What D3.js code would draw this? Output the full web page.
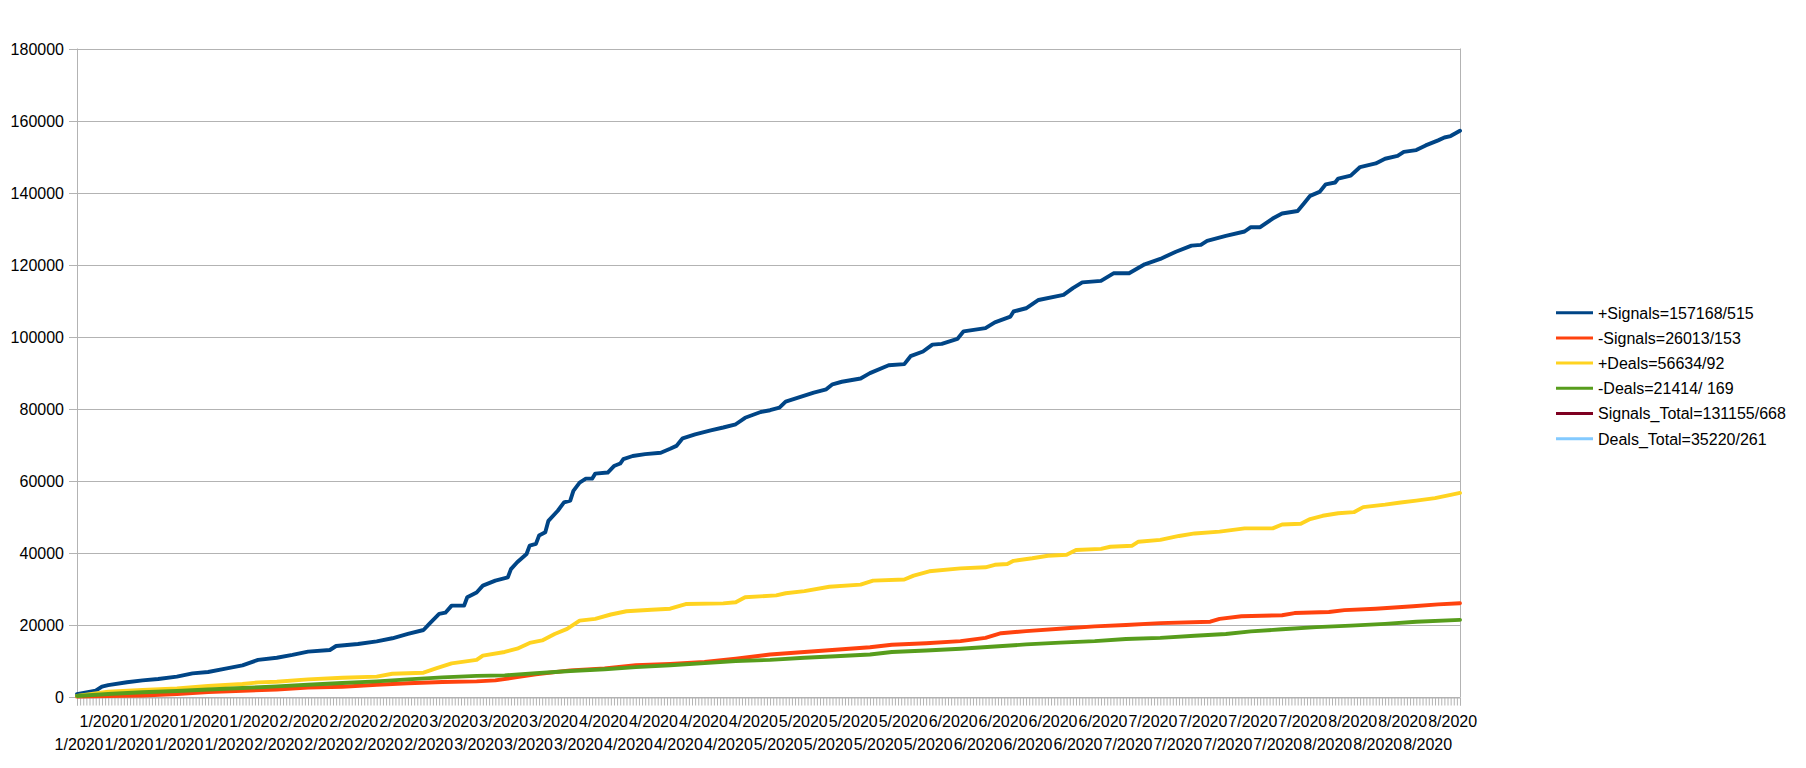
<!DOCTYPE html>
<html><head><meta charset="utf-8">
<script src="https://cdn.jsdelivr.net/npm/d3@7"></script>
<style>
body{margin:0;background:#fff}
svg{display:block}
text{font-family:"Liberation Sans",Arial,sans-serif;fill:#000}
</style>
</head><body>
<svg id="chart" width="1806" height="768"></svg>
<script>
// ---- data ----
const categoryCount = 444;   // number of x categories (one minor tick each)
const labelStep = 8;         // a label every 8 categories
const xLabels = [
 "1/2020","1/2020","1/2020","1/2020","1/2020","1/2020","1/2020","1/2020",
 "2/2020","2/2020","2/2020","2/2020","2/2020","2/2020","2/2020",
 "3/2020","3/2020","3/2020","3/2020","3/2020","3/2020",
 "4/2020","4/2020","4/2020","4/2020","4/2020","4/2020","4/2020",
 "5/2020","5/2020","5/2020","5/2020","5/2020","5/2020","5/2020",
 "6/2020","6/2020","6/2020","6/2020","6/2020","6/2020","6/2020",
 "7/2020","7/2020","7/2020","7/2020","7/2020","7/2020","7/2020","7/2020",
 "8/2020","8/2020","8/2020","8/2020","8/2020","8/2020"
];
const yTicks = [0,20000,40000,60000,80000,100000,120000,140000,160000,180000];
const seriesNames = ["+Signals=157168/515","-Signals=26013/153","+Deals=56634/92","-Deals=21414/ 169","Signals_Total=131155/668","Deals_Total=35220/261"];
const seriesColors = ["#004586","#ff420e","#ffd320","#579d1c","#7e0021","#83caff"];

// [category index, value]
const posSignals = [[0,800],[6,1750],[8,2900],[10,3300],[16,4100],[21,4600],[26,5000],[32,5650],[37,6550],[42,6950],[48,7950],[53,8800],[58,10300],[64,10900],[69,11700],[74,12600],[81,13050],[83,14150],[90,14700],[96,15450],[101,16300],[106,17500],[111,18600],[113,20450],[116,23050],[118,23400],[120,25350],[124,25350],[125,27700],[128,29000],[130,30900],[134,32300],[138,33200],[139,35500],[141,37400],[144,39700],[145,42000],[147,42500],[148,44800],[150,45700],[151,48900],[154,51700],[156,54000],[158,54500],[159,57200],[161,59500],[163,60600],[165,60600],[166,62000],[170,62300],[172,64100],[174,64800],[175,66000],[178,66900],[182,67400],[187,67800],[190,68900],[192,69700],[194,71800],[198,72900],[203,74000],[207,74800],[211,75700],[214,77500],[219,79100],[222,79600],[225,80300],[227,82000],[231,83100],[236,84500],[240,85400],[242,86800],[245,87500],[251,88400],[254,89900],[260,92100],[265,92400],[267,94600],[271,95900],[274,97800],[277,98000],[282,99400],[284,101500],[291,102400],[294,104000],[299,105600],[300,107000],[304,107900],[308,110200],[316,111600],[319,113500],[322,115100],[328,115500],[332,117600],[337,117600],[342,120100],[347,121600],[352,123600],[357,125300],[360,125500],[362,126600],[368,128000],[374,129200],[376,130400],[379,130400],[383,132800],[386,134200],[391,134900],[393,137000],[395,139100],[398,140200],[400,142300],[403,142800],[404,143900],[408,144700],[411,147100],[416,148100],[419,149400],[423,150200],[425,151300],[429,151800],[432,153100],[436,154500],[438,155300],[440,155700],[443,157168]];
const negSignals = [[0,100],[10,250],[21,400],[32,830],[42,1400],[53,1750],[64,2100],[74,2600],[85,2850],[96,3400],[106,3800],[117,4150],[128,4350],[134,4600],[141,5500],[147,6300],[158,7400],[169,7900],[179,8800],[190,9200],[201,9700],[211,10600],[222,11800],[233,12500],[243,13100],[254,13800],[261,14500],[272,14900],[283,15500],[291,16400],[296,17700],[304,18300],[317,19100],[326,19600],[336,20000],[347,20500],[363,20900],[366,21700],[373,22400],[386,22700],[390,23300],[401,23600],[406,24100],[416,24500],[428,25200],[436,25700],[443,26013]];
const posDeals = [[0,300],[10,1500],[21,1950],[32,2400],[42,3050],[53,3600],[58,4050],[64,4250],[74,4900],[85,5350],[96,5650],[101,6450],[111,6750],[115,7950],[120,9350],[128,10300],[130,11500],[137,12500],[141,13400],[145,15000],[149,15700],[153,17500],[157,18900],[161,21200],[166,21700],[171,22900],[176,23800],[184,24200],[190,24500],[195,25800],[207,26000],[211,26300],[214,27700],[224,28200],[227,28800],[233,29400],[241,30600],[251,31200],[255,32300],[265,32600],[268,33700],[273,34900],[283,35700],[291,36000],[294,36700],[298,36900],[300,37800],[306,38500],[311,39200],[317,39500],[320,40800],[328,41100],[331,41700],[338,42000],[340,43100],[347,43600],[353,44700],[358,45400],[366,45900],[374,46800],[383,46800],[386,47900],[392,48100],[395,49400],[399,50300],[404,51000],[409,51300],[412,52700],[419,53400],[424,54000],[429,54500],[435,55200],[440,56100],[443,56634]];
const negDeals = [[0,280],[10,830],[21,1300],[32,1650],[42,2100],[53,2500],[64,2950],[74,3400],[85,3900],[96,4350],[106,4900],[117,5450],[128,5850],[137,6000],[147,6600],[158,7200],[169,7700],[179,8300],[190,8800],[201,9400],[211,10000],[222,10300],[233,10900],[243,11300],[254,11800],[261,12500],[272,12900],[283,13400],[294,14000],[304,14600],[315,15100],[326,15500],[336,16100],[347,16400],[358,17000],[368,17500],[376,18200],[386,18800],[397,19400],[408,19800],[419,20300],[429,20900],[443,21414]];
const signalsTotal = [];
const dealsTotal = [];

// ---- chart ----
const svg = d3.select("#chart");
svg.append("rect").attr("width",1806).attr("height",768).attr("fill","#fff");

const plotLeft = 77, plotRight = 1460, plotTop = 48.5, plotBottom = 697;
const x = d3.scaleLinear().domain([0, categoryCount - 1]).range([plotLeft, plotRight]);
const y = d3.scaleLinear().domain([0, 180000]).range([plotBottom, plotTop]);
const grid = "#b3b3b3";

// gridlines
svg.append("g").selectAll("line").data(yTicks).join("line")
  .attr("x1",plotLeft).attr("x2",plotRight)
  .attr("y1",d=>Math.round(y(d))+0.5).attr("y2",d=>Math.round(y(d))+0.5)
  .attr("stroke",grid).attr("stroke-width",1);

// y axis
const yAxis = d3.axisLeft(y).tickValues(yTicks).tickSize(8).tickPadding(5).tickFormat(d3.format("d"));
const yg = svg.append("g").attr("transform",`translate(${plotLeft},0)`).call(yAxis);
yg.select(".domain").remove();
yg.selectAll(".tick").attr("transform",d=>`translate(0,${Math.round(y(d))+0.5})`);
yg.selectAll(".tick line").attr("stroke",grid);
yg.selectAll(".tick text").attr("font-size","16px").attr("font-family","Liberation Sans, Arial, sans-serif").attr("fill","#000");

// plot border (left + right)
svg.append("line").attr("x1",plotLeft+0.5).attr("x2",plotLeft+0.5).attr("y1",plotTop).attr("y2",plotBottom).attr("stroke",grid);
svg.append("line").attr("x1",plotRight+0.5).attr("x2",plotRight+0.5).attr("y1",plotTop).attr("y2",plotBottom).attr("stroke",grid);

// x axis with a minor tick per category
const xAxis = d3.axisBottom(x).tickValues(d3.range(categoryCount)).tickSize(8).tickFormat("");
const xg = svg.append("g").attr("transform",`translate(0,${Math.round(plotBottom)+0.5})`).call(xAxis);
xg.select(".domain").attr("stroke",grid).attr("stroke-width",1);
xg.selectAll(".tick line").attr("stroke",grid);

// x labels, staggered in two rows
svg.append("g").selectAll("text").data(xLabels).join("text")
  .attr("x",(d,i)=>x(i*labelStep)+2)
  .attr("y",(d,i)=> i%2===0 ? 750 : 727)
  .attr("text-anchor","middle").attr("font-size","16px")
  .text(d=>d);

// lines
const line = d3.line().x(d=>x(d[0])).y(d=>y(d[1])).curve(d3.curveLinear);
const allSeries = [posSignals, negSignals, posDeals, negDeals, signalsTotal, dealsTotal];
allSeries.forEach((s,i)=>{
  if (!s.length) return;
  svg.append("path").datum(s).attr("d",line).attr("fill","none")
    .attr("stroke",seriesColors[i]).attr("stroke-width",3.9)
    .attr("stroke-linejoin","round").attr("stroke-linecap","round");
});

// legend
const lg = svg.append("g");
seriesNames.forEach((n,i)=>{
  const cy = 312.7 + i*25.2;
  lg.append("line").attr("x1",1556).attr("x2",1593).attr("y1",cy).attr("y2",cy)
    .attr("stroke",seriesColors[i]).attr("stroke-width",3);
  lg.append("text").attr("x",1598).attr("y",cy+5.8).attr("font-size","16px").text(n);
});
</script>
</body></html>
